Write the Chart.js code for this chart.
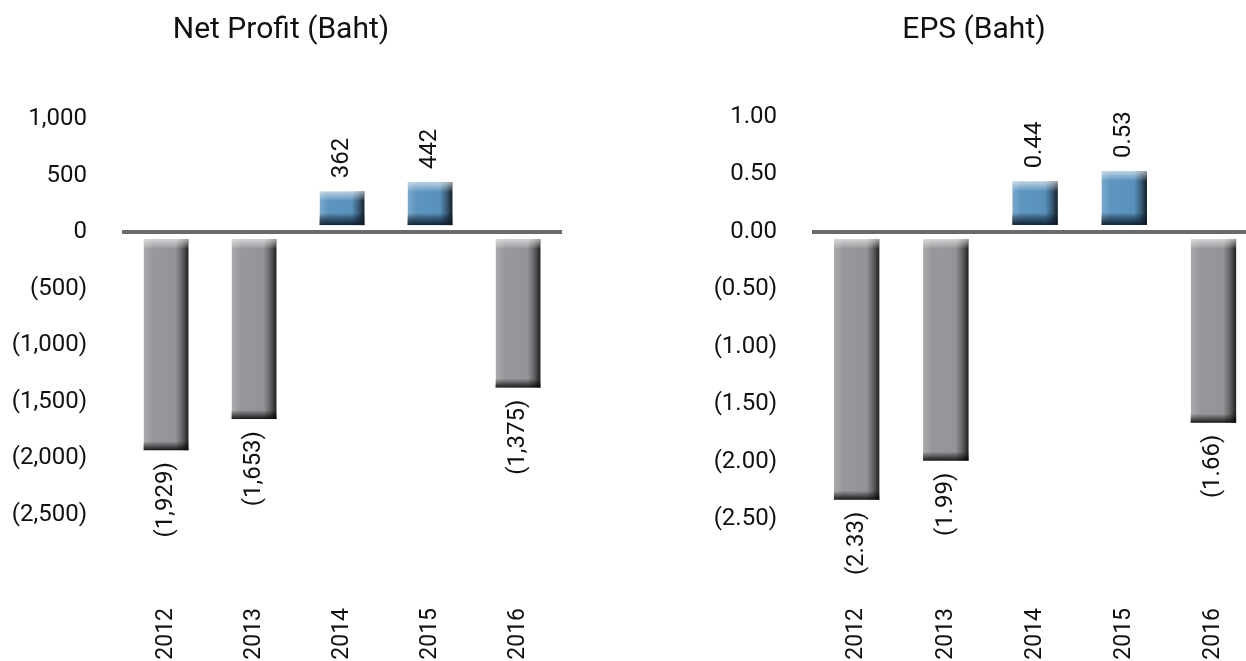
<!DOCTYPE html>
<html>
<head>
<meta charset="utf-8">
<script src="https://cdn.jsdelivr.net/npm/chart.js@4/dist/chart.umd.min.js"></script>
<style>
  html, body { margin: 0; padding: 0; background: #fff; overflow: hidden; }
  body { width: 1246px; height: 661px; position: relative; }
  canvas { position: absolute; top: 0; }
  #profitChart { left: 0; }
  #epsChart { left: 690px; }
</style>
</head>
<body>
<canvas id="profitChart" width="584" height="661" style="width:584px;height:661px"></canvas>
<canvas id="epsChart" width="650" height="661" style="width:650px;height:661px"></canvas>
<script>
const years = ["2012", "2013", "2014", "2015", "2016"];
const netProfit = [-1929, -1653, 362, 442, -1375];
const eps = [-2.33, -1.99, 0.44, 0.53, -1.66];
const profitTicks = [1000, 500, 0, -500, -1000, -1500, -2000, -2500];
const epsTicks = [1.0, 0.5, 0, -0.5, -1.0, -1.5, -2.0, -2.5];

const FONT = "Roboto";
const GAP = 5;

function fmtProfit(v) {
  const s = Math.abs(v).toLocaleString("en-US");
  return v < 0 ? "(" + s + ")" : s;
}
function fmtEps(v) {
  const s = Math.abs(v).toFixed(2);
  return v < 0 ? "(" + s + ")" : s;
}

// shading on the bars + rotated value labels
const barShade = {
  id: "barShade",
  afterDatasetsDraw(chart) {
    const ctx = chart.ctx;
    const ds = chart.data.datasets[0];
    const meta = chart.getDatasetMeta(0);
    meta.data.forEach((bar, i) => {
      const v = ds.data[i];
      const { x, y, base, width } = bar.getProps(["x", "y", "base", "width"], true);
      const left = x - width / 2;
      let top = Math.min(y, base);
      let bottom = Math.max(y, base);
      if (v >= 0) bottom -= GAP; else top += GAP;
      const h = bottom - top;

      ctx.save();
      let g = ctx.createLinearGradient(left, 0, left + width, 0);
      g.addColorStop(0, "rgba(255,255,255,0.18)");
      g.addColorStop(0.12, "rgba(255,255,255,0.08)");
      g.addColorStop(0.3, "rgba(0,0,0,0)");
      g.addColorStop(0.72, "rgba(0,0,0,0.03)");
      g.addColorStop(0.86, "rgba(0,0,0,0.35)");
      g.addColorStop(1, "rgba(0,0,0,0.8)");
      ctx.fillStyle = g;
      ctx.fillRect(left, top, width, h);

      g = ctx.createLinearGradient(0, top, 0, top + 10);
      g.addColorStop(0, "rgba(255,255,255,0.6)");
      g.addColorStop(1, "rgba(255,255,255,0)");
      ctx.fillStyle = g;
      ctx.fillRect(left, top, width, Math.min(10, h));

      const bh = v >= 0 ? 12 : 9;
      g = ctx.createLinearGradient(0, bottom - bh, 0, bottom);
      g.addColorStop(0, "rgba(0,0,0,0)");
      g.addColorStop(0.6, v >= 0 ? "rgba(10,25,40,0.6)" : "rgba(0,0,0,0.5)");
      g.addColorStop(1, v >= 0 ? "rgba(10,25,40,0.9)" : "rgba(0,0,0,0.85)");
      ctx.fillStyle = g;
      ctx.fillRect(left, bottom - bh, width, bh);
      ctx.restore();

      // value label
      ctx.save();
      ctx.font = "24px " + FONT;
      ctx.fillStyle = "#111";
      ctx.textBaseline = "middle";
      if (v >= 0) {
        ctx.translate(x, top - 13);
        ctx.textAlign = "left";
      } else {
        ctx.translate(x, bottom + 12);
        ctx.textAlign = "right";
      }
      ctx.rotate(-Math.PI / 2);
      ctx.fillText(ds.fmt(v), 0, 0);
      ctx.restore();
    });
  },
};

function makeChart(id, title, values, ticks, fmt, yMin, yMax, titleBottom, padRight) {
  return new Chart(document.getElementById(id), {
    type: "bar",
    data: {
      labels: years,
      datasets: [
        {
          data: values,
          fmt: fmt,
          backgroundColor: (c) => (c.raw >= 0 ? "#5b95c0" : "#97989b"),
          borderColor: "#ffffff",
          borderWidth: (c) =>
            c.raw >= 0
              ? { top: 0, right: 0, bottom: GAP, left: 0 }
              : { top: GAP, right: 0, bottom: 0, left: 0 },
          borderSkipped: false,
          barPercentage: 0.51,
          categoryPercentage: 1,
        },
      ],
    },
    options: {
      responsive: false,
      animation: false,
      layout: { padding: { left: 0, right: padRight, top: 0, bottom: 0 } },
      plugins: {
        legend: { display: false },
        tooltip: { enabled: false },
        title: {
          display: true,
          text: title,
          color: "#111",
          font: { family: FONT, size: 30, weight: "normal", lineHeight: 1.2 },
          padding: { top: 12, bottom: titleBottom },
        },
      },
      scales: {
        x: {
          grid: { display: false, drawTicks: false },
          border: { display: false },
          ticks: {
            color: "#111",
            font: { family: FONT, size: 23 },
            minRotation: 90,
            maxRotation: 90,
            padding: 14,
          },
          afterFit: (s) => { s.height = 67; },
        },
        y: {
          min: yMin,
          max: yMax,
          z: 1,
          border: { display: false },
          grid: {
            drawTicks: false,
            color: (c) => (c.tick && c.tick.value === 0 ? "#6b6b6b" : "rgba(0,0,0,0)"),
            lineWidth: (c) => (c.tick && c.tick.value === 0 ? 4 : 0),
          },
          ticks: {
            color: "#111",
            font: { family: FONT, size: 24 },
            padding: 35,
            callback: (v) => fmt(v),
          },
          afterBuildTicks: (s) => { s.ticks = ticks.map((v) => ({ value: v })); },
          afterFit: (s) => { s.width = 122; },
        },
      },
    },
    plugins: [barShade],
  });
}

makeChart("profitChart", "Net Profit (Baht)", netProfit, profitTicks, fmtProfit, -3200, 1000, 71, 22);
makeChart("epsChart", "EPS (Baht)", eps, epsTicks, fmtEps, -3.15, 1.0, 69, 82);
</script>
</body>
</html>
